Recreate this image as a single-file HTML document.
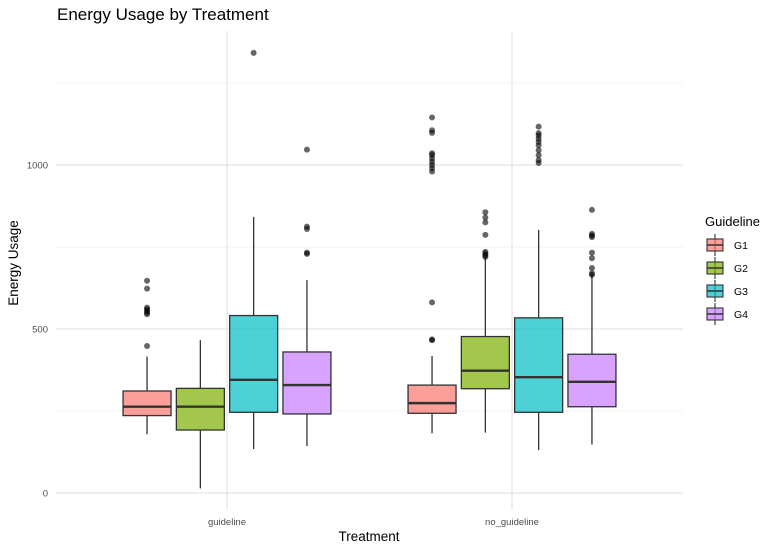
<!DOCTYPE html>
<html><head><meta charset="utf-8"><style>
body{margin:0;background:#fff;font-family:"Liberation Sans",sans-serif}
svg text{font-family:"Liberation Sans",sans-serif}
</style></head><body>
<svg id="c" width="781" height="551" xmlns="http://www.w3.org/2000/svg">
<rect width="781" height="551" fill="#fff"/>
<text x="57" y="20" font-size="17" fill="#000">Energy Usage by Treatment</text>
<g id="grid"></g><g id="marks"></g><g id="axes"></g><g id="legend"></g>
<text x="369" y="541" font-size="13.5" text-anchor="middle" fill="#000">Treatment</text>
<text transform="translate(18,263) rotate(-90)" font-size="13.5" text-anchor="middle" fill="#000">Energy Usage</text>
</svg>
<script>
const categories=["guideline","no_guideline"];
const groups=["G1","G2","G3","G4"];
const colors=["#F8766D","#7CAE00","#00BFC4","#C77CFF"];
// [q1, median, q3, whiskerLow, whiskerHigh] per category per group
const statsGuideline=[[236,263,311,179,416],[192,263,319,14,466],[246,345,541,134,842],[241,329,430,143,649]];
const statsNoGuideline=[[243,274,329,182,418],[318,373,477,184,720],[246,353,534,131,802],[263,339,423,148,665]];
const outGuideline=[[448,545,550,555,560,565,623,647],[],[1342],[729,733,805,812,1047]];
const outNoGuideline=[[466,468,581,980,990,1000,1010,1020,1030,1036,1098,1106,1145],[720,725,730,735,787,825,840,856],[1006,1015,1030,1045,1060,1070,1080,1090,1097,1117],[665,670,686,716,733,780,785,790,863]];
const yTicks=[0,500,1000];
const yMinor=[250,750,1250];

const ns="http://www.w3.org/2000/svg";
function mk(t,a,p){const e=document.createElementNS(ns,t);for(const k in a)e.setAttribute(k,a[k]);p.appendChild(e);return e;}
const L=56,R=683,T=31,B=510;
const yS=v=>493-v*0.328;
const catX=i=>227+i*285;
const grpX=(i,g)=>catX(i)+(g-1.5)*53.3;
const grid=document.getElementById('grid'),marks=document.getElementById('marks'),axes=document.getElementById('axes'),leg=document.getElementById('legend');
yMinor.forEach(v=>{const l=mk('line',{x1:L,x2:R,y1:yS(v),y2:yS(v),stroke:'#ececec','stroke-width':0.7},grid);

});
yTicks.forEach(v=>{const l=mk('line',{x1:L,x2:R,y1:yS(v),y2:yS(v),stroke:'#e4e4e4','stroke-width':1.2},grid);


const t=mk('text',{x:48,y:yS(v)+3.5,'font-size':9.5,'text-anchor':'end',fill:'#4d4d4d'},axes);t.textContent=v;

});
categories.forEach((c,i)=>{const l=mk('line',{x1:catX(i),x2:catX(i),y1:T,y2:B,stroke:'#e4e4e4','stroke-width':1.2},grid);


const t=mk('text',{x:catX(i),y:525,'font-size':9.5,'text-anchor':'middle',fill:'#4d4d4d'},axes);t.textContent=c;

});
const allStats=[statsGuideline,statsNoGuideline],allOut=[outGuideline,outNoGuideline];
categories.forEach((c,i)=>{groups.forEach((g,j)=>{
 const s=allStats[i][j],x=grpX(i,j),w=48;
 const gr=mk('g',{},marks);
 
 
 mk('line',{x1:x,x2:x,y1:yS(s[2]),y2:yS(s[4]),stroke:'#333','stroke-width':1.3},gr);
 mk('line',{x1:x,x2:x,y1:yS(s[0]),y2:yS(s[3]),stroke:'#333','stroke-width':1.3},gr);
 mk('rect',{x:x-w/2,y:yS(s[2]),width:w,height:yS(s[0])-yS(s[2]),fill:colors[j],'fill-opacity':0.7,stroke:'#333','stroke-width':1.3},gr);
 mk('line',{x1:x-w/2,x2:x+w/2,y1:yS(s[1]),y2:yS(s[1]),stroke:'#333','stroke-width':2.4},gr);
 allOut[i][j].forEach(v=>{const p=mk('circle',{cx:x,cy:yS(v),r:3,fill:'#000','fill-opacity':0.6},gr);
 
 });
});});
const lt=mk('text',{x:705,y:226,'font-size':13,fill:'#000'},leg);lt.textContent='Guideline';


groups.forEach((g,j)=>{const y=245+j*23;const e=mk('g',{},leg);


mk('line',{x1:715,x2:715,y1:y-11,y2:y+11,stroke:'#333','stroke-width':1.1},e);
mk('rect',{x:707,y:y-6,width:16,height:12,fill:colors[j],'fill-opacity':0.7,stroke:'#333','stroke-width':1.1},e);
mk('line',{x1:707,x2:723,y1:y,y2:y,stroke:'#333','stroke-width':1.5},e);
const t=mk('text',{x:734,y:y+4,'font-size':10.5,fill:'#000'},e);t.textContent=g;});
</script>
</body></html>
